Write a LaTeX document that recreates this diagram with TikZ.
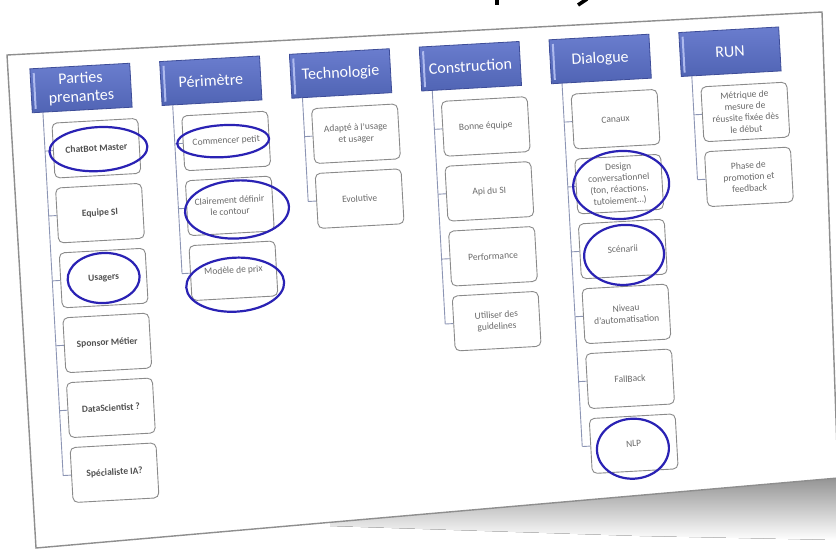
\documentclass[tikz,border=0pt]{standalone}
\usepackage{fontspec}
\setmainfont{Carlito}
\usepackage{tikz}
\definecolor{hdrtop}{HTML}{6A7DCE}
\definecolor{hdrbot}{HTML}{5064B4}
\definecolor{hdredge}{HTML}{3E4D98}
\definecolor{hdrlite}{HTML}{AEBAEE}
\definecolor{boxedge}{HTML}{8A8A8A}
\definecolor{treeline}{HTML}{8C95B4}
\definecolor{itemtxt}{HTML}{6A6A6A}
\definecolor{ppltxt}{HTML}{505050}
\definecolor{penblue}{HTML}{2A22B4}
\definecolor{slideedge}{HTML}{8E8E8E}

\begin{document}
\begin{tikzpicture}[x=1pt,y=1pt,
	hdr/.style={draw=hdredge, line width=0.8pt, top color=hdrtop, bottom color=hdrbot,
		minimum width=100pt, minimum height=44pt, inner sep=1pt, text=white,
		align=center, font=\fontsize{16}{18.5}\selectfont},
	item/.style={draw=boxedge, line width=0.9pt, fill=white, rounded corners=5pt,
		minimum width=86pt, minimum height=55pt, inner sep=1pt, text=itemtxt,
		align=center, font=\fontsize{9.5}{11.5}\selectfont},
	ppl/.style={item, text=ppltxt, font=\fontsize{9.5}{11.5}\selectfont\bfseries},
	tree/.style={draw=treeline, line width=0.9pt},
	pen/.style={draw=penblue, line width=2.2pt},
	]
	\useasboundingbox (0,0) rectangle (836,-550);
	\fill[white] (0,0) rectangle (836,-550);
	\fill[top color=black!42, bottom color=white] (330,-522) -- (838,-478) -- (838,-540) -- (640,-536) -- (330,-526) -- cycle;
	\fill[white] (7,-55) -- (822,-12) -- (838,-478) -- (36,-548) -- cycle;
	\draw[slideedge, line width=1.4pt] (7,-55) -- (822,-12) -- (838,-478) -- (36,-548) -- cycle;
	\fill[black] (495,0) rectangle (499,-5);
	\draw[black, line width=3.6pt] (587,1) -- (578,-5);

	\begin{scope}[shift={(81,-88)}, rotate=3.2, transform shape]
		\node[hdr] (pp) at (0,0) {Parties\\prenantes};
		\node[hdr] (per) at (130,0) {Périmètre};
		\node[hdr] (tec) at (260,0) {Technologie};
		\node[hdr] (con) at (390,0) {Construction};
		\node[hdr] (dia) at (520,0) {Dialogue};
		\node[hdr] (run) at (650,0) {RUN};

		\node[ppl] (pp1) at (12,-61) {ChatBot Master};
		\node[ppl] (pp2) at (12,-126) {Equipe SI};
		\node[ppl] (pp3) at (12,-191) {Usagers};
		\node[ppl] (pp4) at (12,-256) {Sponsor Métier};
		\node[ppl] (pp5) at (12,-321) {DataScientist ?};
		\node[ppl] (pp6) at (12,-386) {Spécialiste IA?};

		\node[item] (per1) at (142,-61) {Commencer petit};
		\node[item] (per2) at (142,-126) {Clairement définir\\le contour};
		\node[item] (per3) at (142,-191) {Modèle de prix};

		\node[item] (tec1) at (272,-61) {Adapté à l’usage\\et usager};
		\node[item] (tec2) at (272,-126) {Evolutive};

		\node[item] (con1) at (402,-61) {Bonne équipe};
		\node[item] (con2) at (402,-126) {Api du SI};
		\node[item] (con3) at (402,-191) {Performance};
		\node[item] (con4) at (402,-256) {Utiliser des\\guidelines};

		\node[item] (dia1) at (532,-61) {Canaux};
		\node[item] (dia2) at (532,-126) {Design\\conversationnel\\(ton, réactions,\\tutoiement…)};
		\node[item] (dia3) at (532,-191) {Scénarii};
		\node[item] (dia4) at (532,-256) {Niveau\\d’automatisation};
		\node[item] (dia5) at (532,-321) {FallBack};
		\node[item] (dia6) at (532,-386) {NLP};

		\node[item] (run1) at (662,-61) {Métrique de\\mesure de\\réussite fixée dès\\le début};
		\node[item] (run2) at (662,-126) {Phase de\\promotion et\\feedback};

		\foreach \n/\c in {pp/6, per/3, tec/2, con/4, dia/6, run/2} {
			\foreach \k in {1,...,\c}
				\draw[tree] (\n\k.west) -- ++(-8,0) coordinate (\n-t\k);
			\draw[tree] (\n.south west) ++(11,0) -- (\n-t\c);
			\draw[hdrlite, line width=2pt] (\n.south west) ++(4,4) -- ++(0,36);
		}

		\draw[pen] (pp1.center) ++(2,-1) ellipse [x radius=49, y radius=22];
		\draw[pen] (pp3.center) ++(0,0) ellipse [x radius=36, y radius=25];
		\draw[pen] (per1.center) ++(-3,0) ellipse [x radius=46, y radius=16];
		\draw[pen] (per2.center) ++(7,-4) ellipse [x radius=52, y radius=29];
		\draw[pen] (per3.center) ++(1,-14) ellipse [x radius=49, y radius=27];
		\draw[pen] (dia2.center) ++(2,-1) ellipse [x radius=48, y radius=34];
		\draw[pen] (dia3.center) ++(1,-6) ellipse [x radius=40, y radius=30];
		\draw[pen] (dia6.center) ++(-1,-5) ellipse [x radius=36, y radius=30];
	\end{scope}
\end{tikzpicture}
\end{document}
